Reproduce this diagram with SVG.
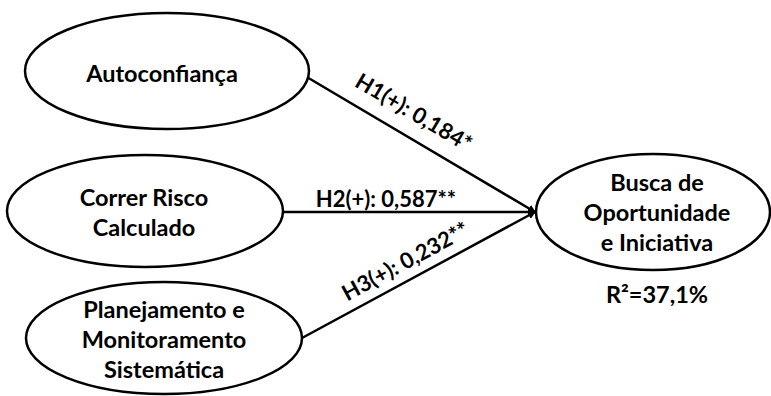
<svg xmlns="http://www.w3.org/2000/svg" width="771" height="396" viewBox="0 0 771 396">
<style>
.n{fill:#fff;stroke:#000;stroke-width:2.5}
.t{font-family:Lato,"Liberation Sans",sans-serif;font-weight:bold;font-size:23.5px;fill:#000;text-anchor:middle}
.l{font-size:22px}
.c{stroke:#000;stroke-width:2.5;fill:none}
</style>
<defs>
<marker id="ah" markerWidth="8" markerHeight="8" refX="7" refY="4" orient="auto" markerUnits="userSpaceOnUse" viewBox="0 0 8 8">
<path d="M0,0 L8,4 L0,8 z" fill="#000"/>
</marker>
</defs>
<g id="connectors">
<line class="c" x1="300" y1="73" x2="535" y2="212" marker-end="url(#ah)"/>
<line class="c" x1="283" y1="212" x2="535" y2="212" marker-end="url(#ah)"/>
<line class="c" x1="302" y1="338" x2="535" y2="212" marker-end="url(#ah)"/>
<text class="t l" transform="translate(410,119) rotate(30.6)">H1(+): 0,184*</text>
<text class="t l" x="386" y="207">H2(+): 0,587**</text>
<text class="t l" transform="translate(409,268) rotate(-28.4)">H3(+): 0,232**</text>
</g>
<g id="n1">
<ellipse class="n" cx="167" cy="71" rx="142" ry="58"/>
<text class="t" x="162" y="82">Autoconfiança</text>
</g>
<g id="n2">
<ellipse class="n" cx="145" cy="211" rx="138" ry="56"/>
<text class="t" x="144" y="206">Correr Risco</text>
<text class="t" x="144" y="236">Calculado</text>
</g>
<g id="n3">
<ellipse class="n" cx="164" cy="338" rx="138" ry="56"/>
<text class="t" x="164" y="318">Planejamento e</text>
<text class="t" x="164" y="348">Monitoramento</text>
<text class="t" x="164" y="378">Sistemática</text>
</g>
<g id="n4">
<ellipse class="n" cx="653" cy="212" rx="117" ry="58"/>
<text class="t" x="657" y="191">Busca de</text>
<text class="t" x="657" y="221">Oportunidade</text>
<text class="t" x="657" y="251">e Iniciativa</text>
<text class="t" x="657" y="303">R²=37,1%</text>
</g>
</svg>
